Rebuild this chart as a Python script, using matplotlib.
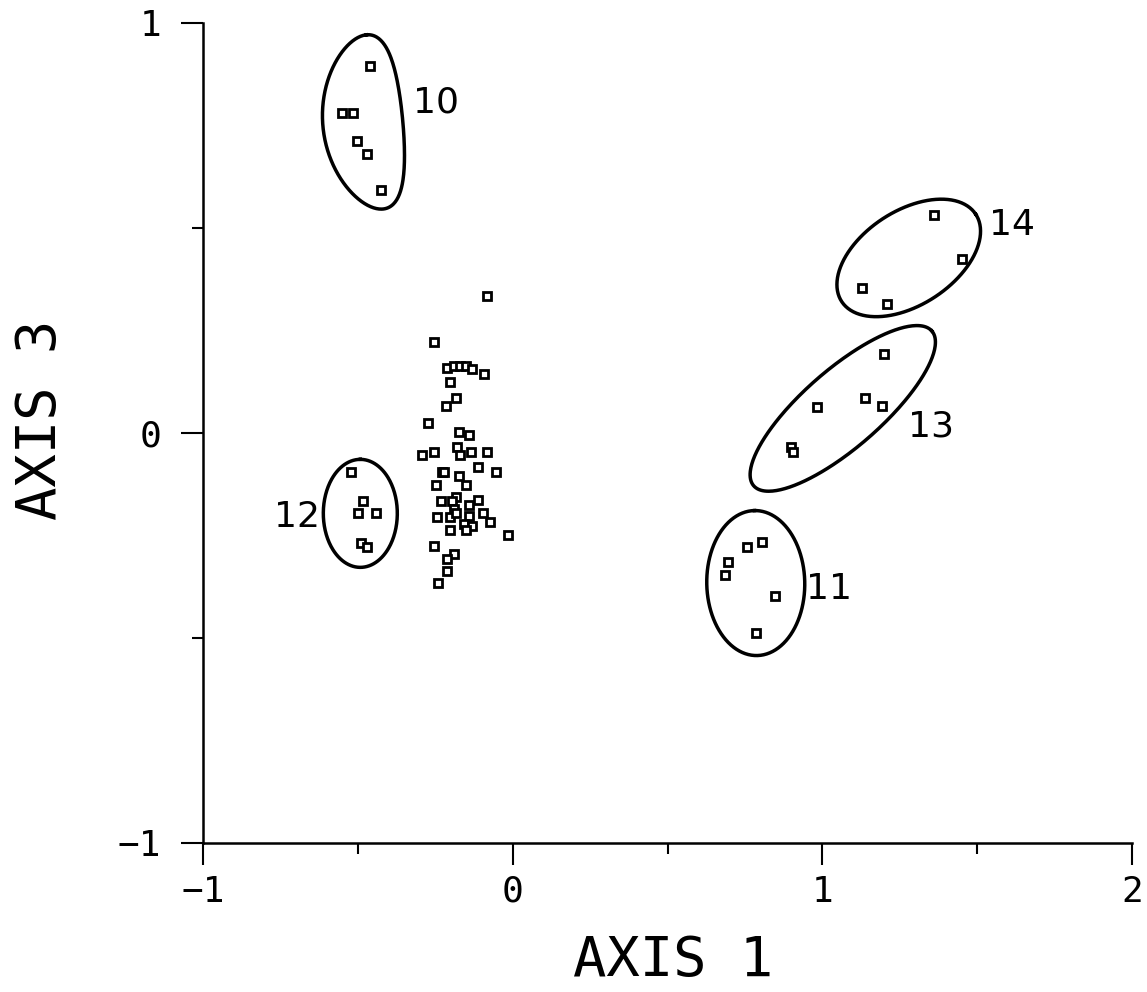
import numpy as np
import matplotlib
matplotlib.use("Agg")
import matplotlib.pyplot as plt

# central unlabeled group
core_x = [-0.082, -0.254, -0.211, -0.190, -0.170, -0.152, -0.132, -0.093, -0.202,
          -0.182, -0.214, -0.273, -0.173, -0.141, -0.292, -0.254, -0.181, -0.170,
          -0.133, -0.084, -0.112, -0.053, -0.227, -0.222, -0.173, -0.150, -0.246,
          -0.184, -0.195, -0.232, -0.141, -0.111, -0.190, -0.243, -0.203, -0.184,
          -0.141, -0.095, -0.073, -0.157, -0.130, -0.152, -0.202, -0.015, -0.254,
          -0.191, -0.213, -0.211, -0.241]
core_y = [0.335, 0.223, 0.158, 0.163, 0.164, 0.164, 0.155, 0.144, 0.124,
          0.085, 0.065, 0.024, 0.003, -0.005, -0.054, -0.046, -0.035, -0.054,
          -0.046, -0.046, -0.084, -0.095, -0.094, -0.094, -0.106, -0.127, -0.127,
          -0.155, -0.165, -0.165, -0.175, -0.163, -0.186, -0.206, -0.206, -0.194,
          -0.203, -0.196, -0.218, -0.222, -0.226, -0.236, -0.236, -0.248, -0.275,
          -0.295, -0.308, -0.336, -0.366]

# labelled groups
g10_x = [-0.462, -0.552, -0.516, -0.504, -0.469, -0.424]
g10_y = [0.894, 0.781, 0.781, 0.711, 0.681, 0.592]
g11_x = [0.758, 0.806, 0.696, 0.686, 0.847, 0.787]
g11_y = [-0.278, -0.267, -0.314, -0.347, -0.397, -0.487]
g12_x = [-0.523, -0.482, -0.501, -0.440, -0.491, -0.469]
g12_y = [-0.095, -0.165, -0.194, -0.194, -0.269, -0.277]
g13_x = [1.199, 0.982, 1.137, 1.194, 0.898, 0.906]
g13_y = [0.193, 0.063, 0.085, 0.065, -0.035, -0.047]
g14_x = [1.360, 1.452, 1.129, 1.210]
g14_y = [0.532, 0.425, 0.354, 0.315]

group_names = ["10", "11", "12", "13", "14"]

# outline drawn round each group: centre (data), semi-axes in pixels, angle, bend
outlines = {
    "10": ((-0.484, 0.756), 87.5, 40, 95.4, -12.0),
    "11": ((0.785, -0.366), 72.5, 49, 91, 0.0),
    "12": ((-0.492, -0.196), 54, 37, 90, 0.0),
    "13": ((1.066, 0.060), 118, 39, 41, 0.0),
    "14": ((1.279, 0.427), 80, 47, 33, 0.0),
}
label_pos = {
    "10": (-0.249, 0.807),
    "11": (1.020, -0.380),
    "12": (-0.697, -0.205),
    "13": (1.350, 0.017),
    "14": (1.614, 0.507),
}

fig = plt.figure(figsize=(11.47, 9.92), dpi=100)
ax = fig.add_axes([203 / 1147, 149 / 992, 929 / 1147, 820 / 992])
ax.set_xlim(-1, 2)
ax.set_ylim(-1, 1)

mk = dict(marker="s", ms=5.5, mfc="white", mec="black", mew=2.0, ls="none")
ax.plot(core_x, core_y, **mk)
for gx, gy in [(g10_x, g10_y), (g11_x, g11_y), (g12_x, g12_y),
               (g13_x, g13_y), (g14_x, g14_y)]:
    ax.plot(gx, gy, **mk)

# outlines, built in pixel space then mapped back to data
t = np.linspace(0, 2 * np.pi, 300)
for name in group_names:
    (cx, cy), a, b, ang, bend = outlines[name]
    u = a * np.cos(t)
    v = b * np.sin(t) + bend * (u / a) ** 2
    th = np.radians(ang)
    dx = u * np.cos(th) - v * np.sin(th)
    dy = u * np.sin(th) + v * np.cos(th)
    px, py = ax.transData.transform((cx, cy))
    pts = ax.transData.inverted().transform(np.column_stack([px + dx, py + dy]))
    ax.plot(pts[:, 0], pts[:, 1], color="black", lw=2.5, clip_on=False)
    lx, ly = label_pos[name]
    ax.text(lx, ly, name, fontsize=26, ha="center", va="center",
            family="DejaVu Sans")

for s in ["top", "right"]:
    ax.spines[s].set_visible(False)
for s in ["left", "bottom"]:
    ax.spines[s].set_linewidth(1.8)

ax.set_xticks([-1, 0, 1, 2])
ax.set_xticklabels(["\u22121", "0", "1", "2"])
ax.set_yticks([-1, 0, 1])
ax.set_yticklabels(["\u22121", "0", "1"])
ax.set_xticks([-0.5, 0.5, 1.5], minor=True)
ax.set_yticks([-0.5, 0.5], minor=True)
ax.tick_params(which="major", length=16, width=1.5, labelsize=26)
ax.tick_params(axis="x", which="major", pad=7)
ax.tick_params(axis="y", which="major", pad=14)
ax.tick_params(which="minor", length=8, width=1.5)
for lab in ax.get_xticklabels() + ax.get_yticklabels():
    lab.set_family("DejaVu Sans Mono")

fig.text(673 / 1147, 1 - 961 / 992, "AXIS 1", fontsize=40,
         family="DejaVu Sans Mono", ha="center", va="center")
fig.text(41 / 1147, 1 - 420 / 992, "AXIS 3", fontsize=40, rotation=90,
         family="DejaVu Sans Mono", ha="center", va="center")

fig.savefig("out.png", dpi=100)
